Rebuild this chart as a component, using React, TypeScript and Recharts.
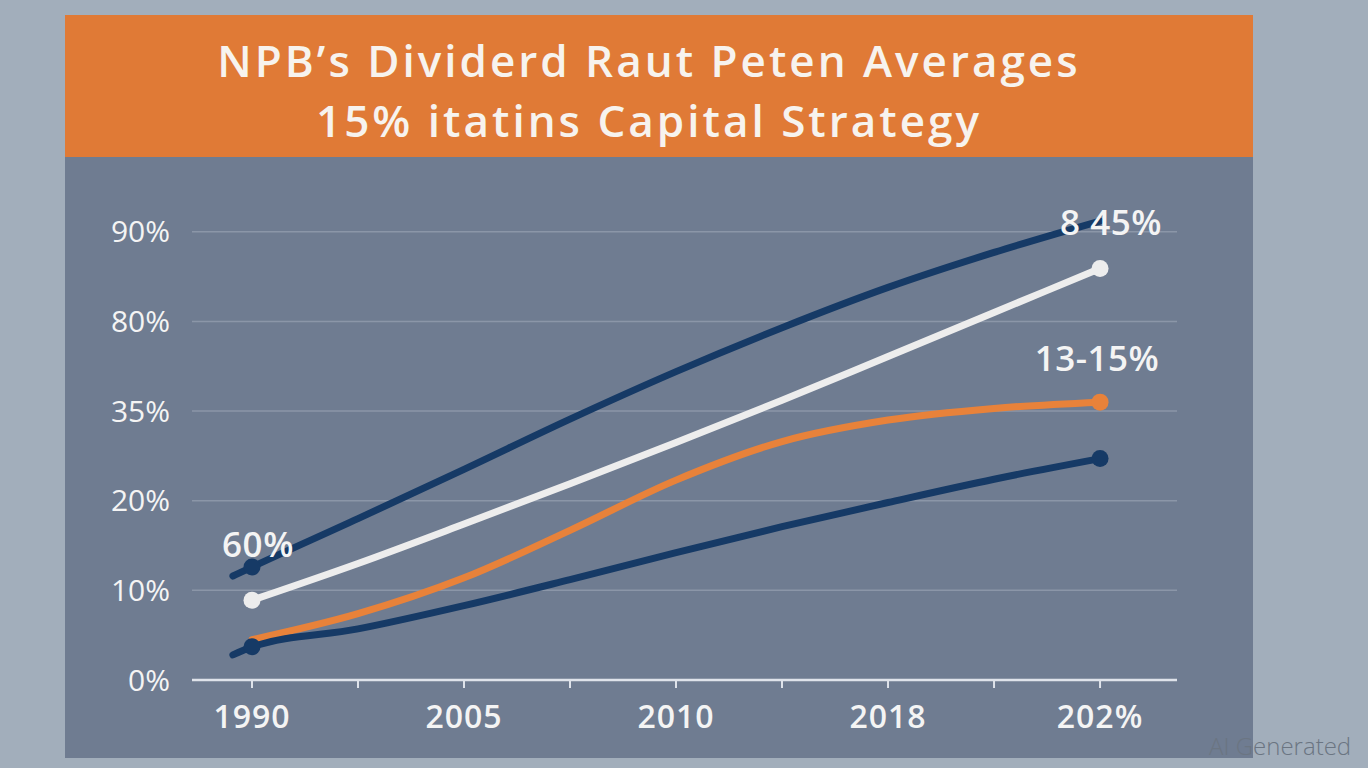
import React from "react";
import {
  LineChart,
  Line,
  XAxis,
  YAxis,
  CartesianGrid,
} from "recharts";

// x positions are tick slots (0 = 1990 ... 8 = last label); -0.18 is the short lead-in stub
const xSlots = [-0.18, 0, 1, 2, 3, 4, 5, 6, 7, 8];
const xTickLabels = ["1990", "", "2005", "", "2010", "", "2018", "", "202%"];
// y values are read in grid steps (0 = "0%", 5 = "90%")
const yTickLabels = ["0%", "10%", "20%", "35%", "80%", "90%"];
const Y_MAX = 5.5;

const navyTop = [1.16, 1.26, 1.8, 2.35, 2.91, 3.44, 3.93, 4.38, 4.77, 5.12];
const whiteLine = [null, 0.89, 1.3, 1.74, 2.19, 2.65, 3.12, 3.61, 4.1, 4.59];
const orangeLine = [null, 0.45, 0.74, 1.14, 1.67, 2.23, 2.66, 2.9, 3.03, 3.1];
const navyBottom = [0.28, 0.37, 0.57, 0.83, 1.12, 1.42, 1.71, 1.98, 2.24, 2.47];

const titleLines = ["NPB’s Dividerd Raut Peten Averages", "15% itatins Capital Strategy"];
const calloutText = ["60%", "8 45%", "13-15%"];

const NAVY = "#163a66";
const WHITE = "#ededed";
const ORANGE = "#e8823a";
const FONT = "'Open Sans', 'Noto Sans', sans-serif";

const chartData = xSlots.map((x, i) => ({
  x,
  navyTop: navyTop[i],
  white: whiteLine[i],
  orange: orangeLine[i],
  navyBottom: navyBottom[i],
}));

const lastIdx = xSlots.length - 1;

function makeDot(color: string, showAt: number[]) {
  return (props: any) => {
    const { cx, cy, index } = props;
    if (!showAt.includes(index) || cx == null || cy == null) {
      return <g key={`d-${color}-${index}`} />;
    }
    return <circle key={`d-${color}-${index}`} cx={cx} cy={cy} r={8.5} fill={color} />;
  };
}

function makeLabel(text: string, at: number, dx: number, dy: number) {
  return (props: any) => {
    const { x, y, index } = props;
    if (index !== at || x == null || y == null) return <g key={`l-${text}-${index}`} />;
    return (
      <text
        key={`l-${text}-${index}`}
        x={x + dx}
        y={y + dy}
        textAnchor="middle"
        dominantBaseline="central"
        fill="#f4f4f4"
        fontFamily={FONT}
        fontWeight={600}
        fontSize={35}
        letterSpacing={0.5}
      >
        {text}
      </text>
    );
  };
}

// gridlines only at the labelled steps above the axis
function gridRows(p: any) {
  const off = p && p.offset;
  if (!off || off.height == null) return [];
  return [1, 2, 3, 4, 5].map((v) => off.top + off.height * (1 - v / Y_MAX));
}

export default function App() {
  return (
    <div
      style={{
        position: "fixed",
        left: 0,
        top: 0,
        width: 1368,
        height: 768,
        background: "#a2aebb",
        overflow: "hidden",
        fontFamily: FONT,
      }}
    >
      <div
        style={{
          position: "absolute",
          left: 65,
          top: 15,
          width: 1188,
          height: 743,
          background: "#6f7c91",
        }}
      />
      <div
        style={{
          position: "absolute",
          left: 65,
          top: 15,
          width: 1188,
          height: 142,
          background: "#e07a36",
          color: "#f7f3ee",
          fontWeight: 600,
          fontSize: 44,
          letterSpacing: 3,
          lineHeight: "60px",
          textAlign: "center",
          paddingTop: 15,
          boxSizing: "border-box",
          paddingRight: 20,
          whiteSpace: "nowrap",
        }}
      >
        {titleLines.map((t) => (
          <div key={t}>{t}</div>
        ))}
      </div>

      <div style={{ position: "absolute", left: 0, top: 0 }}>
        <LineChart
          width={1368}
          height={768}
          data={chartData}
          margin={{ top: 187, right: 191, bottom: 28, left: 42 }}
        >
          <CartesianGrid
            vertical={false}
            stroke="#8b96a8"
            strokeWidth={1.5}
            horizontalCoordinatesGenerator={gridRows}
          />
          <XAxis
            dataKey="x"
            type="number"
            domain={[-0.566, 8.726]}
            ticks={[0, 1, 2, 3, 4, 5, 6, 7, 8]}
            tickFormatter={(v: number) => xTickLabels[v] ?? ""}
            allowDataOverflow
            height={60}
            axisLine={{ stroke: "#dfe3ea", strokeWidth: 2.5 }}
            tickLine={{ stroke: "#dfe3ea", strokeWidth: 2 }}
            tickSize={8}
            tickMargin={17}
            tick={{ fill: "#f4f4f4", fontSize: 32, fontWeight: 600, fontFamily: FONT, letterSpacing: 1 }}
          />
          <YAxis
            type="number"
            domain={[0, Y_MAX]}
            ticks={[0, 1, 2, 3, 4, 5]}
            tickFormatter={(v: number) => yTickLabels[v] ?? ""}
            allowDataOverflow
            width={150}
            axisLine={false}
            tickLine={false}
            tickSize={0}
            tickMargin={22}
            tick={{ fill: "#f4f4f4", fontSize: 30, fontWeight: 500, fontFamily: FONT }}
          />
          <Line
            dataKey="orange"
            type="monotone"
            stroke={ORANGE}
            strokeWidth={7}
            strokeLinecap="round"
            dot={makeDot(ORANGE, [lastIdx])}
            label={makeLabel(calloutText[2], lastIdx, -3, -45)}
            activeDot={false}
            isAnimationActive={false}
          />
          <Line
            dataKey="white"
            type="monotone"
            stroke={WHITE}
            strokeWidth={7}
            strokeLinecap="round"
            dot={makeDot(WHITE, [1, lastIdx])}
            activeDot={false}
            isAnimationActive={false}
          />
          <Line
            dataKey="navyBottom"
            type="monotone"
            stroke={NAVY}
            strokeWidth={7}
            strokeLinecap="round"
            dot={makeDot(NAVY, [1, lastIdx])}
            activeDot={false}
            isAnimationActive={false}
          />
          <Line
            dataKey="navyTop"
            type="monotone"
            stroke={NAVY}
            strokeWidth={7}
            strokeLinecap="round"
            dot={makeDot(NAVY, [1])}
            label={(p: any) =>
              p.index === 1
                ? makeLabel(calloutText[0], 1, 6, -24)(p)
                : makeLabel(calloutText[1], lastIdx, 11, 0)(p)
            }
            activeDot={false}
            isAnimationActive={false}
          />
        </LineChart>
      </div>

      <div
        style={{
          position: "absolute",
          left: 1209,
          top: 729,
          fontSize: 24,
          color: "#6b7582",
          fontFamily: "'Open Sans', sans-serif",
          fontWeight: 300,
          whiteSpace: "nowrap",
        }}
      >
        AI Generated
      </div>
    </div>
  );
}
